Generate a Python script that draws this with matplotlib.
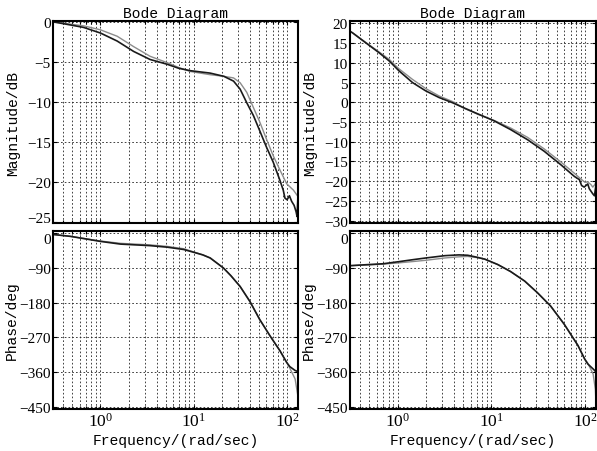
import matplotlib
matplotlib.use("Agg")
import matplotlib.pyplot as plt

plt.rcParams['mathtext.fontset'] = 'custom'
plt.rcParams['mathtext.rm'] = 'Liberation Serif'
plt.rcParams['mathtext.it'] = 'Liberation Serif:italic'
plt.rcParams['mathtext.default'] = 'regular'

# ---- left system: magnitude (dB) ----
w_lmag_dark = [0.31, 0.48, 0.66, 1.0, 1.51, 2.27, 3.4, 5.2, 6.9, 9.2, 15, 21, 26.7, 31.4, 37, 43.6,
               51, 60, 71, 84, 91, 95, 100, 106, 112, 119, 125, 128, 131]
lmag_dark = [0, -0.4, -0.7, -1.4, -2.4, -3.7, -4.7, -5.3, -5.8, -6.1, -6.4, -6.8, -7.4, -8.4, -10.1, -11.7,
             -13.6, -15.6, -17.5, -19.8, -21.0, -22.0, -22.2, -21.7, -22.4, -22.9, -23.7, -24.3, -21.6]
w_lmag_light = [0.31, 0.48, 0.66, 1.0, 1.51, 2.27, 3.4, 5.2, 6.9, 9.2, 15, 21, 26.7, 31.4, 37, 43.6,
                51, 60, 71, 84, 99, 117, 131]
lmag_light = [0, -0.3, -0.5, -1.0, -1.8, -3.1, -4.3, -5.1, -5.7, -6.2, -6.6, -6.8, -7.0, -7.6, -8.8, -10.7,
              -12.5, -14.6, -16.7, -18.5, -20.2, -21.0, -21.8]

# ---- left system: phase (deg) ----
w_lph_dark = [0.31, 0.48, 1.0, 1.64, 3.4, 5.2, 7.8, 9.9, 12.5, 15, 20.8, 25, 31.4, 40, 51, 66, 84, 99,
              107, 122, 128, 130.5, 131]
lph_dark = [-3, -8, -21, -28, -32, -36, -42, -49, -56, -64, -90, -110, -138, -177, -224, -267, -305, -335,
            -346, -356, -358, -360, -424]
w_lph_light = [0.31, 0.48, 1.0, 1.64, 3.4, 5.2, 7.8, 9.9, 12.5, 15, 20.8, 25, 31.4, 40, 51, 66, 84, 99,
               107, 122, 131]
lph_light = [-3, -8, -20, -26, -30, -34, -40, -48, -56, -64, -90, -110, -138, -177, -224, -267, -305, -335,
             -350, -378, -424]

# ---- right system: magnitude (dB) ----
w_rmag_dark = [0.31, 0.33, 0.455, 0.63, 0.81, 1.03, 1.44, 1.99, 2.77, 3.84, 5.2, 7.1, 10.7, 16, 24.4,
               36.6, 55, 77, 87, 92, 98, 107, 111, 121, 126, 131]
rmag_dark = [18.0, 17.6, 15.1, 12.6, 10.5, 8.0, 5.0, 2.9, 1.2, -0.1, -1.5, -2.9, -4.7, -6.9, -9.5,
             -12.4, -15.8, -18.8, -19.6, -21.1, -21.5, -20.7, -21.9, -23.2, -23.7, -21.0]
w_rmag_light = [0.31, 0.33, 0.455, 0.63, 0.81, 1.03, 1.44, 1.99, 2.77, 3.84, 5.2, 7.1, 10.7, 16, 24.4,
                36.6, 55, 77, 90, 100, 107, 116, 121, 126, 131]
rmag_light = [18.0, 17.6, 15.2, 12.8, 10.9, 8.5, 5.8, 3.5, 1.6, 0.2, -1.6, -3.0, -4.6, -6.5, -8.9,
              -11.8, -15.1, -18.0, -19.4, -20.3, -20.2, -20.9, -21.5, -21.0, -20.3]

# ---- right system: phase (deg) ----
w_rph_dark = [0.31, 0.5, 0.7, 1.0, 1.5, 2.0, 3.2, 4.5, 5.6, 7.0, 8.5, 11.7, 16, 22.7, 31, 43, 60, 84, 99,
              107, 122, 128, 130.5, 131]
rph_dark = [-84, -81, -79, -74, -68, -64, -58, -56, -57, -62, -67, -81, -99, -124, -154, -189, -236, -291,
            -326, -339, -352, -357, -362, -441]
w_rph_light = [0.31, 0.5, 0.7, 1.0, 1.5, 2.0, 3.2, 4.5, 5.6, 7.0, 8.5, 11.7, 16, 22.7, 31, 43, 60, 84, 99,
               107, 122, 129, 131]
rph_light = [-84, -82, -80, -77, -73, -70, -64, -61, -60, -63, -67, -81, -99, -124, -154, -189, -236, -291,
             -326, -337, -365, -405, -441]

mag_ticks_left = [0, -5, -10, -15, -20, -25]
mag_ticks_right = [20, 15, 10, 5, 0, -5, -10, -15, -20, -25, -30]
phase_ticks = [0, -90, -180, -270, -360, -450]

W, H = 597, 452
DARK = '#1a1a1a'
LIGHT = '#8c8c8c'


def box(x0, y0, x1, y1):
    return [x0 / W, 1 - y1 / H, (x1 - x0) / W, (y1 - y0) / H]


def style(ax, ysize):
    ax.set_xscale('log')
    ax.set_xlim(0.31, 131)
    grid_ls = (0, (2, 2.5))
    ax.grid(True, which='major', axis='both', color='#222222', linestyle=grid_ls, linewidth=0.6)
    ax.grid(True, which='minor', axis='x', color='#222222', linestyle=grid_ls, linewidth=0.6)
    ax.tick_params(which='both', direction='in', top=True, right=True, length=3, width=0.8, pad=1.5)
    ax.tick_params(which='minor', length=2)
    ax.tick_params(axis='x', labelsize=12.5, pad=2)
    ax.tick_params(axis='y', labelsize=ysize)
    for lab in ax.get_yticklabels() + ax.get_xticklabels():
        lab.set_family('Liberation Serif')
    for s in ax.spines.values():
        s.set_linewidth(1.5)


fig = plt.figure(figsize=(5.97, 4.52), dpi=100)

ax1 = fig.add_axes(box(53, 22, 298, 224))
ax1.plot(w_lmag_light, lmag_light, color=LIGHT, linewidth=1.0)
ax1.plot(w_lmag_dark, lmag_dark, color=DARK, linewidth=1.2)
ax1.set_ylim(-25.1, 0.1)
ax1.set_yticks(mag_ticks_left)

ax2 = fig.add_axes(box(53, 232, 298, 410))
ax2.plot(w_lph_light, lph_light, color=LIGHT, linewidth=1.0)
ax2.plot(w_lph_dark, lph_dark, color=DARK, linewidth=1.2)

ax3 = fig.add_axes(box(350, 22, 596, 224))
ax3.plot(w_rmag_light, rmag_light, color=LIGHT, linewidth=1.0)
ax3.plot(w_rmag_dark, rmag_dark, color=DARK, linewidth=1.2)
ax3.set_ylim(-30.6, 20.6)
ax3.set_yticks(mag_ticks_right)

ax4 = fig.add_axes(box(350, 232, 596, 410))
ax4.plot(w_rph_light, rph_light, color=LIGHT, linewidth=1.0)
ax4.plot(w_rph_dark, rph_dark, color=DARK, linewidth=1.2)

for ax in (ax2, ax4):
    ax.set_ylim(-456, 6)
    ax.set_yticks(phase_ticks)

for ax in (ax1, ax3):
    style(ax, 11)
    ax.tick_params(labelbottom=False)
    ax.set_title('Bode Diagram', family='Liberation Mono', fontsize=10.5, pad=3)
    ax.set_ylabel('Magnitude/dB', family='Liberation Mono', fontsize=10.5)
    ax.yaxis.set_label_coords(-0.135, 0.5)

# lowest magnitude labels are nudged up so they clear the phase panels
ax1.get_yticklabels()[-1].set_va('baseline')
ax3.get_yticklabels()[-1].set_va('center_baseline')

for ax in (ax2, ax4):
    style(ax, 11)
    ax.set_ylabel('Phase/deg', family='Liberation Mono', fontsize=10.5)
    ax.yaxis.set_label_coords(-0.14, 0.5)
    ax.set_xlabel('Frequency/(rad/sec)', family='Liberation Mono', fontsize=10.5)
    ax.xaxis.set_label_coords(0.5, -0.135)
    ax.get_yticklabels()[0].set_va('top')

fig.savefig('out.png', dpi=100)
